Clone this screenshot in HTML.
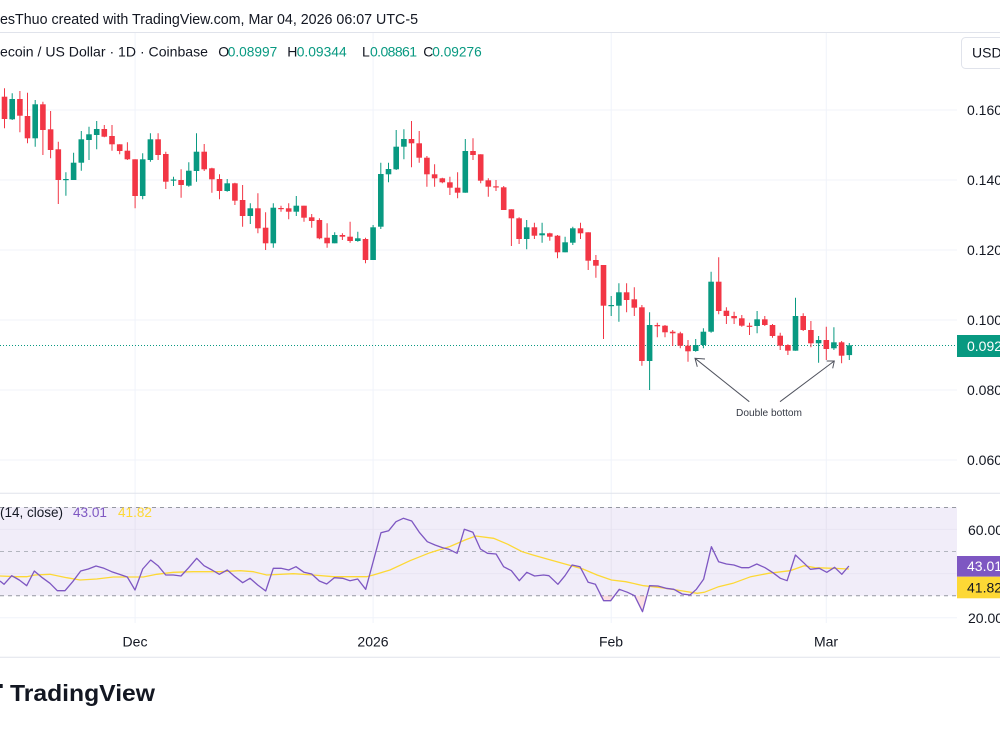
<!DOCTYPE html>
<html><head><meta charset="utf-8"><style>
html,body{margin:0;padding:0;background:#fff;overflow:hidden;width:1000px;height:730px}
svg{display:block;font-family:"Liberation Sans",sans-serif}
.g{fill:#089981}.r{fill:#f23645}
</style></head><body>
<svg width="1000" height="730" viewBox="0 0 1000 730" xmlns="http://www.w3.org/2000/svg">
<rect width="1000" height="730" fill="#fff"/>
<!-- header -->
<text x="0" y="24" font-size="15" fill="#131722" textLength="418" lengthAdjust="spacingAndGlyphs">esThuo created with TradingView.com, Mar 04, 2026 06:07 UTC-5</text>
<line x1="0" y1="32.5" x2="1000" y2="32.5" stroke="#e0e3eb"/>
<!-- vertical grid -->
<g stroke="#f0f3fa" stroke-width="1">
<line x1="135.1" y1="33" x2="135.1" y2="623"/><line x1="373.1" y1="33" x2="373.1" y2="623"/>
<line x1="611.2" y1="33" x2="611.2" y2="623"/><line x1="826.3" y1="33" x2="826.3" y2="623"/>
<line x1="0" y1="110" x2="957" y2="110"/><line x1="0" y1="180" x2="957" y2="180"/>
<line x1="0" y1="250" x2="957" y2="250"/><line x1="0" y1="320" x2="957" y2="320"/>
<line x1="0" y1="390" x2="957" y2="390"/><line x1="0" y1="460" x2="957" y2="460"/>
</g>
<text y="56.5" font-size="14" fill="#131722"><tspan x="0" textLength="208" lengthAdjust="spacingAndGlyphs">ecoin / US Dollar · 1D · Coinbase</tspan></text>
<text y="56.5" font-size="14" fill="#131722">
<tspan x="218.3">O</tspan><tspan x="227.7" fill="#089981" textLength="49.6" lengthAdjust="spacingAndGlyphs">0.08997</tspan>
<tspan x="287.3">H</tspan><tspan x="296.7" fill="#089981" textLength="50" lengthAdjust="spacingAndGlyphs">0.09344</tspan>
<tspan x="362">L</tspan><tspan x="370" fill="#089981" textLength="47" lengthAdjust="spacing">0.08861</tspan>
<tspan x="423.3">C</tspan><tspan x="432.3" fill="#089981" textLength="49.4" lengthAdjust="spacingAndGlyphs">0.09276</tspan>
</text>
<!-- USD box -->
<rect x="961.5" y="37.5" width="46" height="31" rx="4" fill="#fff" stroke="#e0e3eb"/>
<text x="972" y="57.5" font-size="14" fill="#131722">USD</text>
<!-- price labels -->
<g font-size="14" fill="#131722">
<text x="967" y="115">0.16000</text><text x="967" y="185">0.14000</text>
<text x="967" y="255">0.12000</text><text x="967" y="325">0.10000</text>
<text x="967" y="395">0.08000</text><text x="967" y="465">0.06000</text>
</g>
<!-- current price line -->
<line x1="0" y1="345.5" x2="957" y2="345.5" stroke="#089981" stroke-width="1" stroke-dasharray="1 2"/>
<rect x="957" y="335" width="43" height="22" fill="#089981"/>
<text x="967" y="351" font-size="14" fill="#fff">0.09276</text>
<!-- wicks -->
<path fill="none" stroke="#089981" stroke-width="1" d="M12.2 93.3V120M35.2 100V146.7M65.9 172.3V195.7M73.6 152.7V180M81.3 131V170.7M89 126.7V160M96.7 121V149.3M142.7 153.3V199.3M150.4 133.3V161.7M173.5 176.7V186M188.8 162.3V186.7M196.5 133.3V181.7M227.2 179V191.7M250.3 203.3V224M273.3 203.3V247.7M296.3 196V216M334.7 232.3V243.3M357.8 231.7V241.7M373.1 225V260M380.8 162.7V229M388.5 162.7V182.3M396.2 130V170M403.9 129.3V159.3M465.3 139V192.7M526.7 220V249.3M542.1 222.7V242.7M565.1 236.7V252.3M572.8 226.7V245M611.2 296V316M618.9 283.3V321.7M649.6 312.3V390M695.7 339V351.7M703.4 328.3V348.3M711.1 271.7V332.7M757.1 311V333.3M795.5 297.7V350.7M818.6 336V362.7M833.9 327.3V350M849.3 343V360"/>
<path fill="none" stroke="#f23645" stroke-width="1" d="M4.5 88.3V128.3M19.9 91V132.3M27.5 92.7V143.3M42.9 101.7V155M50.6 111V158.3M58.3 141.7V204M104.3 125V137.3M112 125V150.7M119.7 144.3V154.3M127.4 142.3V160M135.1 159.3V208.3M158.1 133.3V160M165.8 151.7V189M181.1 169.3V197.7M204.2 144V171M211.9 167.7V192.7M219.5 174.3V199.3M234.9 182.7V205M242.6 185V226.7M257.9 193.3V233.3M265.6 212.3V250M281 205.7V211.7M288.7 203.3V219.3M304 205.7V221.7M311.7 214V227.7M319.4 218.3V239.3M327.1 223.3V247.7M342.4 233.3V240M350.1 221.7V242.7M365.5 237.7V263.3M411.5 121V167.3M419.2 131V162.7M426.9 156V186.7M434.6 164.3V186.7M442.3 177.7V183.3M449.9 176.7V195M457.6 172.3V198.3M473 138.3V160M480.7 154.3V183.3M488.3 178.3V196.7M496 180V191M503.7 186V210M511.4 209.3V246M519.1 217.3V244M534.4 222.7V239M549.8 232.7V240.7M557.5 235V258.3M580.5 222.7V239M588.2 232.3V270M595.9 255V277.7M603.5 265V339M626.6 283.3V312.3M634.3 287.3V316M641.9 305V365.7M657.3 322.7V337.3M665 325V337.3M672.7 330V346M680.3 331.7V348.3M688 340V361.7M718.7 257.3V314.3M726.4 307.3V324M734.1 311.7V324M741.8 315V326.7M749.5 322.7V335M764.8 316V326M772.5 324V337.7M780.2 332.7V350M787.9 344.3V355M803.2 313.3V331M810.9 321V347.3M826.3 326.7V360M841.6 341V363.3"/>
<!-- bodies -->
<g>
<rect class="r" x="1.7" y="96.7" width="5.6" height="22.3"/>
<rect class="g" x="9.4" y="99" width="5.6" height="20.3"/>
<rect class="r" x="17.1" y="99" width="5.6" height="16.7"/>
<rect class="r" x="24.7" y="116" width="5.6" height="22.3"/>
<rect class="g" x="32.4" y="104.3" width="5.6" height="34"/>
<rect class="r" x="40.1" y="104.3" width="5.6" height="25.7"/>
<rect class="r" x="47.8" y="129.3" width="5.6" height="20.7"/>
<rect class="r" x="55.5" y="149.3" width="5.6" height="30.7"/>
<rect class="g" x="63.1" y="179" width="5.6" height="1.2"/>
<rect class="g" x="70.8" y="162.7" width="5.6" height="17.3"/>
<rect class="g" x="78.5" y="139.3" width="5.6" height="23.4"/>
<rect class="g" x="86.2" y="134.3" width="5.6" height="5.7"/>
<rect class="g" x="93.9" y="129" width="5.6" height="6"/>
<rect class="r" x="101.5" y="129" width="5.6" height="7.7"/>
<rect class="r" x="109.2" y="136" width="5.6" height="8.3"/>
<rect class="r" x="116.9" y="144.3" width="5.6" height="6.7"/>
<rect class="r" x="124.6" y="150.7" width="5.6" height="8.6"/>
<rect class="r" x="132.3" y="159.3" width="5.6" height="36.7"/>
<rect class="g" x="139.9" y="159.3" width="5.6" height="36.7"/>
<rect class="g" x="147.6" y="139.3" width="5.6" height="20.7"/>
<rect class="r" x="155.3" y="139.3" width="5.6" height="15.7"/>
<rect class="r" x="163" y="154" width="5.6" height="27.7"/>
<rect class="g" x="170.7" y="179.5" width="5.6" height="1.2"/>
<rect class="r" x="178.3" y="180" width="5.6" height="5"/>
<rect class="g" x="186" y="170.7" width="5.6" height="15"/>
<rect class="g" x="193.7" y="151.7" width="5.6" height="19.3"/>
<rect class="r" x="201.4" y="151.7" width="5.6" height="17.6"/>
<rect class="r" x="209.1" y="168.3" width="5.6" height="11"/>
<rect class="r" x="216.7" y="179" width="5.6" height="12"/>
<rect class="g" x="224.4" y="183.3" width="5.6" height="7.7"/>
<rect class="r" x="232.1" y="183.3" width="5.6" height="17.4"/>
<rect class="r" x="239.8" y="200" width="5.6" height="16"/>
<rect class="g" x="247.5" y="208.3" width="5.6" height="7.7"/>
<rect class="r" x="255.1" y="208.3" width="5.6" height="20"/>
<rect class="r" x="262.8" y="227.7" width="5.6" height="15.6"/>
<rect class="g" x="270.5" y="207.7" width="5.6" height="35.6"/>
<rect class="r" x="278.2" y="208" width="5.6" height="1.2"/>
<rect class="r" x="285.9" y="208.3" width="5.6" height="3.4"/>
<rect class="g" x="293.5" y="205.7" width="5.6" height="6"/>
<rect class="r" x="301.2" y="205.7" width="5.6" height="12"/>
<rect class="r" x="308.9" y="217.3" width="5.6" height="3.7"/>
<rect class="r" x="316.6" y="220" width="5.6" height="18.3"/>
<rect class="r" x="324.3" y="237.7" width="5.6" height="5.6"/>
<rect class="g" x="331.9" y="235" width="5.6" height="8.3"/>
<rect class="r" x="339.6" y="235" width="5.6" height="1.7"/>
<rect class="r" x="347.3" y="236.7" width="5.6" height="4.3"/>
<rect class="g" x="355" y="238.3" width="5.6" height="2.7"/>
<rect class="r" x="362.7" y="239" width="5.6" height="21"/>
<rect class="g" x="370.3" y="227.3" width="5.6" height="32.7"/>
<rect class="g" x="378" y="174" width="5.6" height="52.7"/>
<rect class="g" x="385.7" y="169" width="5.6" height="5.3"/>
<rect class="g" x="393.4" y="146.7" width="5.6" height="22.6"/>
<rect class="g" x="401.1" y="139" width="5.6" height="7.7"/>
<rect class="r" x="408.7" y="139" width="5.6" height="4.3"/>
<rect class="r" x="416.4" y="143.3" width="5.6" height="14.4"/>
<rect class="r" x="424.1" y="157.7" width="5.6" height="16.6"/>
<rect class="r" x="431.8" y="174.3" width="5.6" height="4"/>
<rect class="r" x="439.5" y="178.3" width="5.6" height="4"/>
<rect class="r" x="447.1" y="182.3" width="5.6" height="5.4"/>
<rect class="r" x="454.8" y="187.7" width="5.6" height="5"/>
<rect class="g" x="462.5" y="151" width="5.6" height="41.7"/>
<rect class="r" x="470.2" y="151" width="5.6" height="4"/>
<rect class="r" x="477.9" y="154.3" width="5.6" height="26.4"/>
<rect class="r" x="485.5" y="180.3" width="5.6" height="6.4"/>
<rect class="r" x="493.2" y="186.3" width="5.6" height="1.2"/>
<rect class="r" x="500.9" y="187.3" width="5.6" height="22.7"/>
<rect class="r" x="508.6" y="209.3" width="5.6" height="9"/>
<rect class="r" x="516.3" y="218.3" width="5.6" height="20.7"/>
<rect class="g" x="523.9" y="227.3" width="5.6" height="11.7"/>
<rect class="r" x="531.6" y="227.3" width="5.6" height="8.4"/>
<rect class="g" x="539.3" y="233.3" width="5.6" height="2"/>
<rect class="r" x="547" y="233.3" width="5.6" height="3.4"/>
<rect class="r" x="554.7" y="235.7" width="5.6" height="16.6"/>
<rect class="g" x="562.3" y="242.3" width="5.6" height="10"/>
<rect class="g" x="570" y="228.3" width="5.6" height="14.4"/>
<rect class="r" x="577.7" y="228.3" width="5.6" height="5"/>
<rect class="r" x="585.4" y="232.3" width="5.6" height="28.4"/>
<rect class="r" x="593.1" y="260" width="5.6" height="5.7"/>
<rect class="r" x="600.7" y="265" width="5.6" height="40.7"/>
<rect class="g" x="608.4" y="305" width="5.6" height="1.2"/>
<rect class="g" x="616.1" y="292.3" width="5.6" height="13.4"/>
<rect class="r" x="623.8" y="292.3" width="5.6" height="7.7"/>
<rect class="r" x="631.5" y="299.3" width="5.6" height="8.4"/>
<rect class="r" x="639.1" y="307.3" width="5.6" height="53.7"/>
<rect class="g" x="646.8" y="325" width="5.6" height="36"/>
<rect class="r" x="654.5" y="325" width="5.6" height="1.3"/>
<rect class="r" x="662.2" y="325.7" width="5.6" height="6.6"/>
<rect class="r" x="669.9" y="331.7" width="5.6" height="1.6"/>
<rect class="r" x="677.5" y="333.3" width="5.6" height="12.4"/>
<rect class="r" x="685.2" y="345.7" width="5.6" height="5.6"/>
<rect class="g" x="692.9" y="345" width="5.6" height="6"/>
<rect class="g" x="700.6" y="331.7" width="5.6" height="13.3"/>
<rect class="g" x="708.3" y="281.7" width="5.6" height="50"/>
<rect class="r" x="715.9" y="281.7" width="5.6" height="29.3"/>
<rect class="r" x="723.6" y="310.7" width="5.6" height="5.3"/>
<rect class="r" x="731.3" y="316" width="5.6" height="2.3"/>
<rect class="r" x="739" y="318.3" width="5.6" height="7.4"/>
<rect class="r" x="746.7" y="325.7" width="5.6" height="1.2"/>
<rect class="g" x="754.3" y="319.3" width="5.6" height="6.7"/>
<rect class="r" x="762" y="319.3" width="5.6" height="5.7"/>
<rect class="r" x="769.7" y="325" width="5.6" height="11"/>
<rect class="r" x="777.4" y="335.7" width="5.6" height="10"/>
<rect class="r" x="785.1" y="345" width="5.6" height="5.7"/>
<rect class="g" x="792.7" y="316" width="5.6" height="34.7"/>
<rect class="r" x="800.4" y="316" width="5.6" height="14"/>
<rect class="r" x="808.1" y="330" width="5.6" height="13.3"/>
<rect class="g" x="815.8" y="340" width="5.6" height="3.3"/>
<rect class="r" x="823.5" y="340" width="5.6" height="9"/>
<rect class="g" x="831.1" y="342.3" width="5.6" height="6"/>
<rect class="r" x="838.8" y="342.3" width="5.6" height="13.4"/>
<rect class="g" x="846.5" y="345.3" width="5.6" height="9.8"/>
</g>
<!-- annotation -->
<g stroke="#50535e" stroke-width="1" fill="none">
<path d="M749.3 401.7L695 358.3M705 359L695 358.3L697.3 366.7"/>
<path d="M780 401.7L834.3 361M826.7 361L834.3 361L832.7 368.3"/>
</g>
<text x="736" y="416" font-size="10" fill="#363a45" textLength="66" lengthAdjust="spacingAndGlyphs">Double bottom</text>
<!-- pane separator -->
<line x1="0" y1="493.3" x2="1000" y2="493.3" stroke="#e0e3eb"/>
<!-- RSI pane -->
<rect x="0" y="507.3" width="957" height="88.4" fill="#f1edf9"/>
<g stroke="#f0f3fa" stroke-width="1">
<line x1="0" y1="529.4" x2="957" y2="529.4" stroke="#e9e5f3"/>
<line x1="0" y1="573.6" x2="957" y2="573.6" stroke="#e9e5f3"/>
<line x1="0" y1="617.7" x2="957" y2="617.7"/>
<line x1="135.1" y1="507" x2="135.1" y2="596" stroke="#e6e2f0"/><line x1="373.1" y1="507" x2="373.1" y2="596" stroke="#e6e2f0"/>
<line x1="611.2" y1="507" x2="611.2" y2="596" stroke="#e6e2f0"/><line x1="826.3" y1="507" x2="826.3" y2="596" stroke="#e6e2f0"/>
</g>
<g stroke="#9598a1" stroke-width="1" stroke-dasharray="4 4">
<line x1="0" y1="507.5" x2="957" y2="507.5"/>
<line x1="0" y1="551.5" x2="957" y2="551.5" stroke="#b2b5be"/>
<line x1="0" y1="595.7" x2="957" y2="595.7"/>
</g>
<polygon points="599.5,595.7 603.6,600.7 610.7,600.7 614,595.7" fill="rgba(242,54,69,0.15)"/>
<polygon points="634.3,595.7 642.5,611.7 646.5,595.7" fill="rgba(242,54,69,0.15)"/>
<polyline fill="none" stroke="#fdd835" stroke-width="1.3" points="0,576 16.7,576.7 26.7,576.7 35,575 50,574.3 66.7,577.7 80,580 96.7,579 113.3,577 133.3,577 143.3,577 156.7,574.3 173.3,572.3 193.3,571.7 220,571.7 240,570.7 253.3,571.7 266.7,575 293.3,573.7 313.3,575 333.3,576.7 366.7,576.7 373.3,575 390,570 410,560.7 430,552.7 450,546.5 465,540 475.7,536 493.6,538.3 507.9,544.3 522.1,551.7 532.9,555 547.1,559 565,564 582.9,569 597.1,575 611.4,580 625.7,581.7 643.6,585.7 661.4,587.7 682.9,591 697.1,593.3 704.3,592.3 718.6,586.7 732.9,583.3 750.7,576.7 768.6,573.3 790,570.7 804.3,565.7 815,567.7 832.9,568.3 848.9,569"/>
<polyline fill="none" stroke="#7e57c2" stroke-width="1.3" stroke-linejoin="round" points="0,581 4,584.3 11.7,575.7 19.3,580 26.7,585.7 34.3,571 42.3,577.7 50,583.3 57.3,590.7 65,590.7 72.7,581.7 80.7,571 88.3,569 96,566 104,568.3 111.7,571.7 119.3,574.3 127.3,577 135,590 142.7,569 150.7,560 158,565.7 165.7,575 173.3,575 181,576 188.7,567.7 196.7,558.3 204,565.7 212,570 219.3,574.3 227.3,570 235,576.7 242.7,582.7 250,578.3 257.7,585 265.7,591 273.3,568.3 281,568.3 288.7,570 296,566.7 304,572.3 311.7,574 319.3,581 326.7,584 334.3,577.7 342.7,578.3 350,580.7 357.7,579 365.7,589.3 381,532.7 388.7,530.7 396,521.7 403.3,518.3 411.7,521 419.3,532.3 427.3,541.7 435,545 442.7,547.7 448.9,549.3 457.1,553.3 464.3,529.3 472.9,532.3 480.4,549 487.5,553.3 496.1,554 503.6,566.7 511.4,570.7 519.3,580.7 526.8,572.3 534.6,576 543.6,575 548.9,575.7 557.9,584.3 565,575.7 572.1,565 580,566.7 588.2,582.3 595.4,584.3 603.6,600.7 610.7,600.7 619.3,589.3 627.5,592.3 634.6,595.7 642.5,611.7 649.6,585.7 657.9,586 666.1,588.3 673.9,589.3 682.1,594 690,595 696.4,589.3 703.6,579.3 711.4,546.7 718.6,561.7 726.4,564 733.9,565 741.8,567.7 748.9,567.7 756.8,564 765,567.7 772.9,572.7 780.4,578.3 787.1,580.7 795.4,555 803.6,562.7 810.4,569.3 819.3,568.3 826.8,572.3 834.6,567.3 841.8,574.3 848.9,566"/>
<text x="63" y="517" font-size="13.5" fill="#131722" text-anchor="end">RSI (14, close)</text>
<text x="73" y="517" font-size="13.5" fill="#7e57c2" textLength="34" lengthAdjust="spacingAndGlyphs">43.01</text>
<text x="118" y="517" font-size="13.5" fill="#fdd835" textLength="34" lengthAdjust="spacingAndGlyphs">41.82</text>
<!-- RSI axis -->
<text x="968" y="535" font-size="14" fill="#131722">60.00</text>
<text x="968" y="623" font-size="14" fill="#131722">20.00</text>
<rect x="957" y="556" width="43" height="20.7" fill="#7e57c2"/>
<text x="967" y="571" font-size="14" fill="#fff">43.01</text>
<rect x="957" y="576.7" width="43" height="21.6" fill="#fdd835"/>
<text x="967" y="592.5" font-size="14" fill="#131722">41.82</text>
<!-- time axis -->
<g font-size="14" fill="#131722" text-anchor="middle">
<text x="135" y="646.5">Dec</text><text x="373" y="646.5">2026</text>
<text x="611" y="646.5">Feb</text><text x="826" y="646.5">Mar</text>
</g>
<line x1="0" y1="657.3" x2="1000" y2="657.3" stroke="#e0e3eb"/>
<!-- logo -->
<rect x="0" y="684" width="2.7" height="4" fill="#131722"/>
<text x="10" y="701" font-size="23" font-weight="bold" fill="#131722" textLength="145" lengthAdjust="spacingAndGlyphs">TradingView</text>
</svg>
</body></html>
